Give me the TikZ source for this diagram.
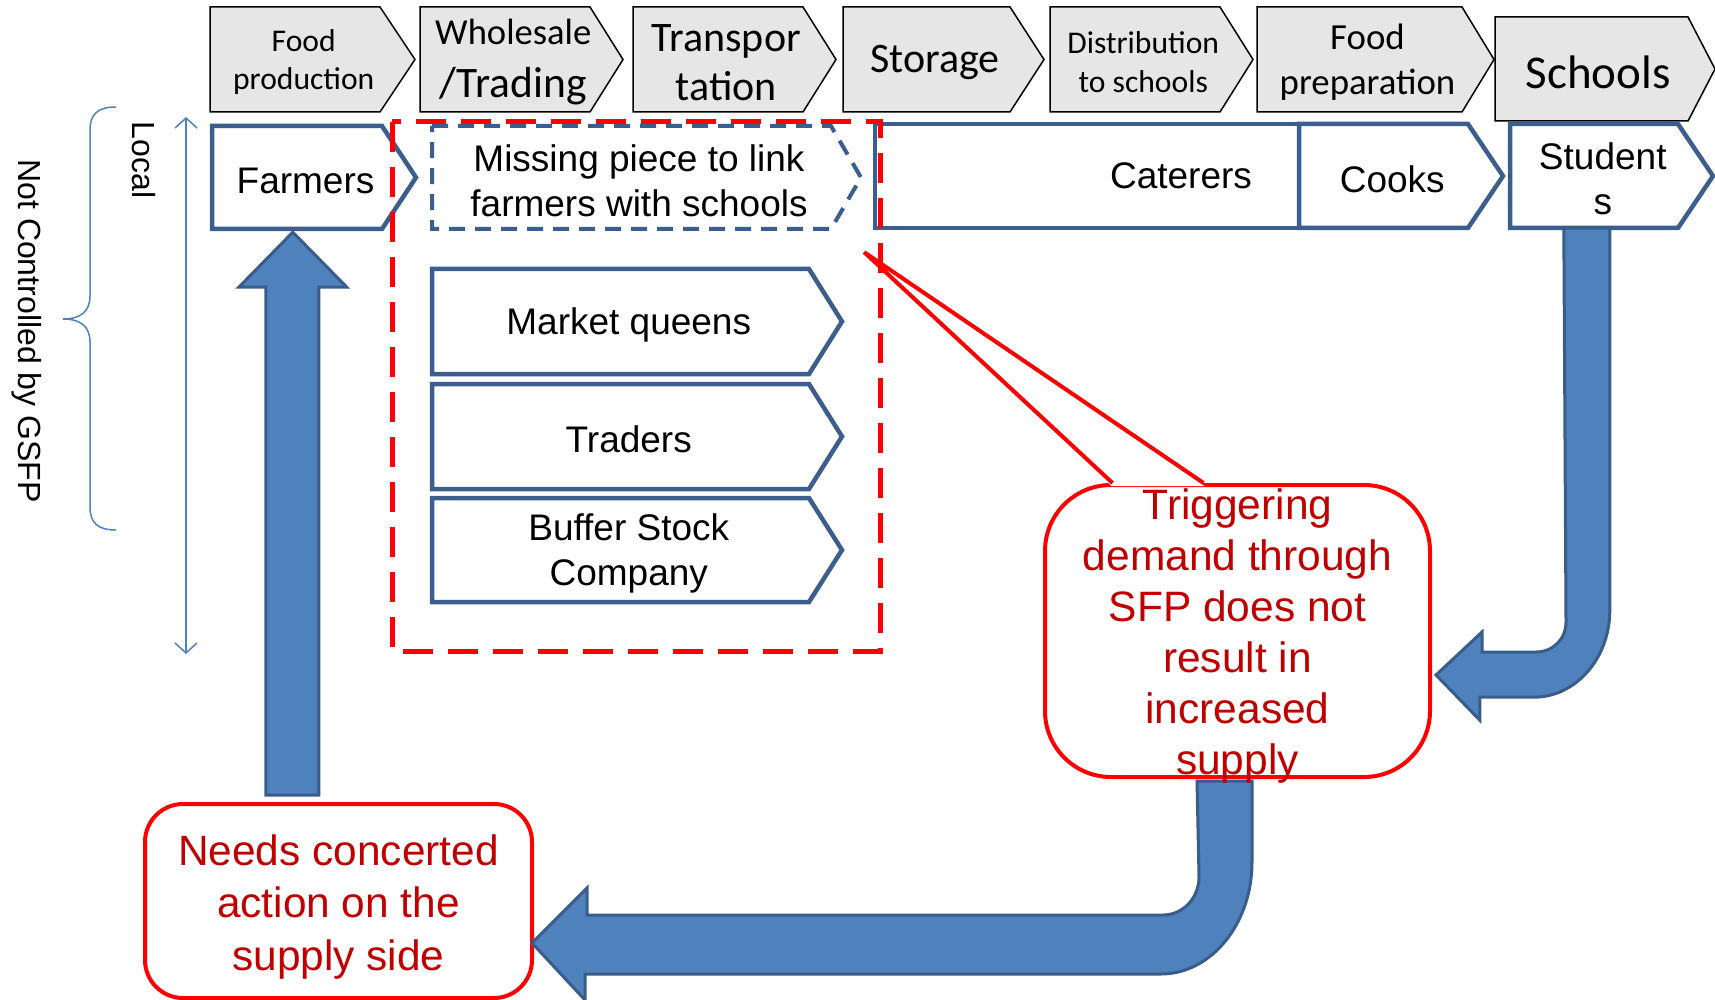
\documentclass[tikz,border=0pt]{standalone}
\usepackage{fontspec}
\setmainfont{Liberation Sans}
\newfontfamily\hdrfont{Carlito}
\usepackage{tikz}
\usetikzlibrary{calc,arrows.meta}

\definecolor{hdrgray}{RGB}{230,230,230}
\definecolor{boxblue}{RGB}{59,94,140}
\definecolor{arrowfill}{RGB}{79,129,189}
\definecolor{arrowedge}{RGB}{56,93,138}
\definecolor{linkblue}{RGB}{79,129,189}
\definecolor{callred}{RGB}{192,0,0}

\newcommand{\boxfont}{\fontsize{37}{45}\selectfont}
\newcommand{\callfont}{\fontsize{42.5}{51}\selectfont}
\newcommand{\sidefont}{\fontsize{32}{38}\selectfont}

% chevron step: name, x, y (top left), body width, height, tip depth, shape style, font, text
\newcommand{\chev}[9]{%
  \draw[#7] (#2,#3) -- ++(#4,0) -- ++(#6,#5/2) -- ++(-#6,#5/2) -- ++(-#4,0) -- cycle;
  \node[chevtext, font=#8, minimum width=#4+#6/2, minimum height=#5] (#1) at (#2+#4/2+#6/4, #3+#5/2+3) {#9};}

\begin{document}
\begin{tikzpicture}[x=1pt,y=-1pt]
    \tikzstyle{hdrbox}=[draw=black,fill=hdrgray,line width=1.5pt]
    \tikzstyle{bluebox}=[draw=boxblue,fill=white,line width=4.5pt]
    \tikzstyle{dashbox}=[draw=boxblue,fill=white,line width=4pt,dash pattern=on 16pt off 10pt]
    \tikzstyle{chevtext}=[inner sep=0pt,align=center]
    \tikzstyle{missingframe}=[draw=red,line width=5pt,dash pattern=on 30pt off 15pt]
    \tikzstyle{blockarrow}=[fill=arrowfill,draw=arrowedge,line width=3pt]
    \tikzstyle{callbox}=[draw=red,fill=white,line width=4pt]
    \tikzstyle{calltext}=[text=callred,align=center,inner sep=0pt,font=\callfont]
    \tikzstyle{sidetext}=[inner sep=0pt,font=\sidefont]
    \tikzstyle{localarrow}=[draw=linkblue,line width=1.5pt,{Straight Barb[length=10pt,width=22pt]}-{Straight Barb[length=10pt,width=22pt]}]
    \useasboundingbox (0,0) rectangle (1715,1000);

    % supply chain steps
    \chev{foodprod}{210}{7}{170}{105}{35}{hdrbox}{\hdrfont\fontsize{31.6}{38}\selectfont}{Food\\production}
    \chev{wholesale}{420}{7}{170}{105}{33}{hdrbox}{\hdrfont\fontsize{36.6}{53}\selectfont}{Wholesale\\{\fontsize{43.5}{53}\selectfont /Trading}}
    \chev{transport}{633}{7}{170}{105}{33}{hdrbox}{\hdrfont\fontsize{42}{49}\selectfont}{Transpor\\tation}
    \chev{storage}{843}{7}{167}{105}{34}{hdrbox}{\hdrfont\fontsize{42}{49}\selectfont}{Storage}
    \chev{distrib}{1050}{7}{170}{105}{33}{hdrbox}{\hdrfont\fontsize{31.6}{39}\selectfont}{Distribution\\to schools}
    \chev{foodprep}{1257}{7}{205}{105}{32}{hdrbox}{\hdrfont\fontsize{36.8}{45}\selectfont}{Food\\preparation}
    \chev{schools}{1495}{17}{193}{104}{27}{hdrbox}{\hdrfont\fontsize{47}{54}\selectfont}{Schools}

    % actors
    \chev{farmers}{212}{126}{170}{103}{34}{bluebox}{\boxfont}{Farmers}
    \chev{missing}{432}{126}{399}{103}{30}{dashbox}{\boxfont}{Missing piece to link\\farmers with schools}
    \node[bluebox, inner sep=0pt, font=\boxfont, minimum width=591, minimum height=104] (caterers) at (1170.5,176) {\hspace*{21pt}Caterers};
    \chev{cooks}{1299}{124}{169}{104}{35}{bluebox}{\boxfont}{Cooks}
    \chev{students}{1510}{124}{168}{104}{35}{bluebox}{\boxfont}{Student\\s}
    \chev{market}{432}{269}{377}{105}{33}{bluebox}{\boxfont}{Market queens}
    \chev{traders}{432}{384}{377}{105}{33}{bluebox}{\boxfont}{Traders}
    \chev{buffer}{432}{498}{377}{104}{33}{bluebox}{\boxfont}{Buffer Stock\\Company}
    \draw[missingframe] (392,122) rectangle (880,651);

    % left side scale
    \draw[localarrow] (186,117) -- (186,654);
    \node[sidetext, rotate=-90] (local) at (144,160) {Local};
    \draw[draw=linkblue,line width=1.5pt] (116,107) .. controls (98,107) and (90,114) .. (90,130) -- (90,296)
        .. controls (90,312) and (80,319) .. (63,319) .. controls (80,319) and (90,326) .. (90,342) -- (90,507)
        .. controls (90,523) and (98,530) .. (116,530);
    \node[sidetext, rotate=-90] (notctrl) at (27,331) {Not Controlled by GSFP};

    % callouts
    \node[callbox, rounded corners=66, minimum width=385, minimum height=292] (trig) at (1237.5,631) {};
    \coordinate (trigtip) at ($(missing.south east)+(18,20)$);
    \fill[white] ($(trig.north)+(-126,3)$) -- (trigtip) -- ($(trig.north)+(-33,3)$) -- cycle;
    \draw[draw=red,line width=4pt] ($(trig.north)+(-125,0)$) -- (trigtip) -- ($(trig.north)+(-34,0)$);
    \node[callbox, rounded corners=38, minimum width=387, minimum height=194] (needs) at (338.5,901) {};
    \node[calltext, font=\fontsize{42.4}{52.5}\selectfont] (needstext) at ($(needs.center)+(0,6)$) {Needs concerted\\action on the\\supply side};

    % feedback arrows
    \coordinate (farmtip) at ($(farmers.south west)+(81,0)$);
    \draw[blockarrow] (farmtip) -- ++(54,55) -- ++(-28,0) coordinate (ar) -- ($(ar |- needs.north)+(0,-7)$)
        -- ++(-53,0) -- ($(farmtip)+(-27,55)$) -- ++(-27,0) -- cycle;
    \coordinate (stud) at ($(students.south west)+(54,-3)$);
    \coordinate (btip) at ($(trig.east)+(4,44)$);
    \draw[blockarrow] (btip) -- ++(46,-43) -- ++(0,20) -- ++(54,0) .. controls +(17,0) and +(0,17) .. ++(30,-30)
        -- (stud) -- ++(46,0) -- ++(0,382) .. controls +(0,48) and +(42,0) .. ++(-76,87)
        -- ++(-54,0) -- ++(0,23) -- cycle;
    \coordinate (ctip) at ($(needs.east)+(-2,42)$);
    \coordinate (ctop) at ($(trig.south)+(-40.5,2)$);
    \draw[blockarrow] (ctip) -- ++(55,-55) -- ++(0,27) -- ++(576,0) .. controls +(20,0) and +(0,21) .. ++(36,-38)
        -- (ctop) -- ++(55,0) -- ++(0,81) .. controls +(0,62) and +(50,0) .. ++(-91,112)
        -- ++(-576,0) -- ++(0,26) -- cycle;

    \node[calltext] (trigtext) at ($(trig.center)+(0,5)$) {Triggering\\demand through\\SFP does not\\result in\\increased\\supply};
\end{tikzpicture}
\end{document}
